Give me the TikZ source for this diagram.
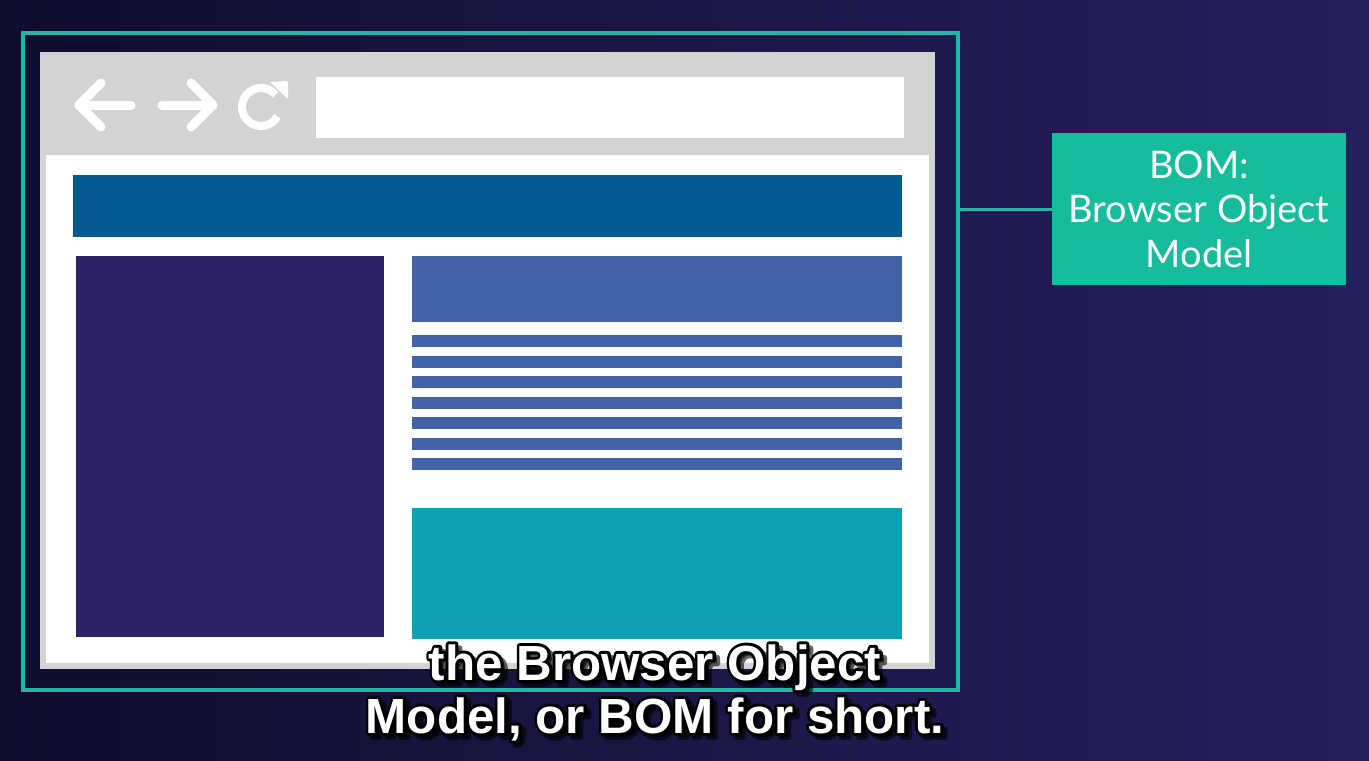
\documentclass[tikz,border=0pt]{standalone}
\usepackage{fontspec}
\usetikzlibrary{fit,calc}
\newfontfamily\labelfont{Lato}
\newfontfamily\subfont{Liberation Sans}
\newfontfamily\suboutline{Liberation Sans}[BoldFeatures={FakeBold=12}]
\definecolor{bgL}{HTML}{0F0E2D}
\definecolor{bgR}{HTML}{251F5E}
\definecolor{frameteal}{HTML}{1FB7A6}
\definecolor{bomfill}{HTML}{17BC9D}
\definecolor{chrome}{HTML}{D3D3D3}
\definecolor{headerblue}{HTML}{045A91}
\definecolor{sidepanel}{HTML}{2B2164}
\definecolor{contentblue}{HTML}{4262A8}
\definecolor{footerteal}{HTML}{0FA1B2}
\newcommand\subLineA{the Browser Object}
\newcommand\subLineB{Model, or BOM for short.}
\begin{document}
\begin{tikzpicture}[x=0.75pt,y=-0.75pt,
  block/.style={inner sep=0pt, outer sep=0pt},
  icon/.style={draw=white, line width=6.75pt, line cap=round, line join=round},
  subline/.style={font=\subfont\bfseries\fontsize{37}{40}\selectfont, anchor=base, inner sep=0pt},
  subedge/.style={font=\suboutline\bfseries\fontsize{37}{40}\selectfont, anchor=base, inner sep=0pt,
    text=black, line join=round, line cap=round}]
  % page and background
  \useasboundingbox (0,0) rectangle (1369,760);
  \fill[left color=bgL, right color=bgR] (0,0) rectangle (1369,760);

  % browser window
  \node[block, fit={(40,52)(935,669)}, fill=chrome] (browser) {};
  \node[block, fit={(46,155)(929,663)}, fill=white] (page) {};
  \node[block, fit={(316,77)(904,138)}, fill=white] (address) {};

  % toolbar icons: back, forward, reload
  \draw[icon] (101,83) -- (79,105) -- (101,127);
  \draw[icon] (79,105) -- (131,105);
  \draw[icon] (162,105) -- (213,105);
  \draw[icon] (191,83) -- (213,105) -- (191,127);
  \coordinate (reload) at (261,107);
  \draw[icon, line width=6pt, line cap=butt] (reload) ++(-40:19) arc[start angle=-40, end angle=-330, radius=19];
  \fill[white, rounded corners=1pt] (270,82) -- (288,81) -- (288,99) -- cycle;

  % page layout
  \node[block, fit={(73,175)(902,237)}, fill=headerblue] (header) {};
  \node[block, fit={(76,256)(384,637)}, fill=sidepanel] (sidebar) {};
  \node[block, fit={(412,256)(902,322)}, fill=contentblue] (title) {};
  \foreach \i in {0,...,6}
    \node[block, fit={(412,{335+20.5*\i})(902,{347+20.5*\i})}, fill=contentblue] (textline\i) {};
  \node[block, fit={(412,508)(902,639)}, fill=footerteal] (footer) {};

  % BOM outline and label
  \node[block, fit={(23,33)(958,690)}, draw=frameteal, line width=3pt] (frame) {};
  \node[block, fit={(1052,133)(1346,285)}, fill=bomfill] (bom) {};
  \node[font=\labelfont\fontsize{28.5}{33.4}\selectfont, text=white, align=center] (bomlabel) at (bom.center) {BOM:\\Browser Object\\Model};
  \draw[frameteal, line width=2.25pt] (frame.east |- bom.west) -- (bom.west);

  % subtitle: shadow, outline, fill
  \coordinate (subA) at (655,680);
  \coordinate (subB) at (655,733);
  \node[subedge, opacity=0.6] (subAshadow) at ($(subA)+(4,4)$) {\subLineA};
  \node[subedge, opacity=0.6] (subBshadow) at ($(subB)+(4,4)$) {\subLineB};
  \node[subedge] (subAedge) at (subA) {\subLineA};
  \node[subedge] (subBedge) at (subB) {\subLineB};
  \node[subline, text=white] (subAtext) at (subA) {\subLineA};
  \node[subline, text=white] (subBtext) at (subB) {\subLineB};
\end{tikzpicture}
\end{document}
